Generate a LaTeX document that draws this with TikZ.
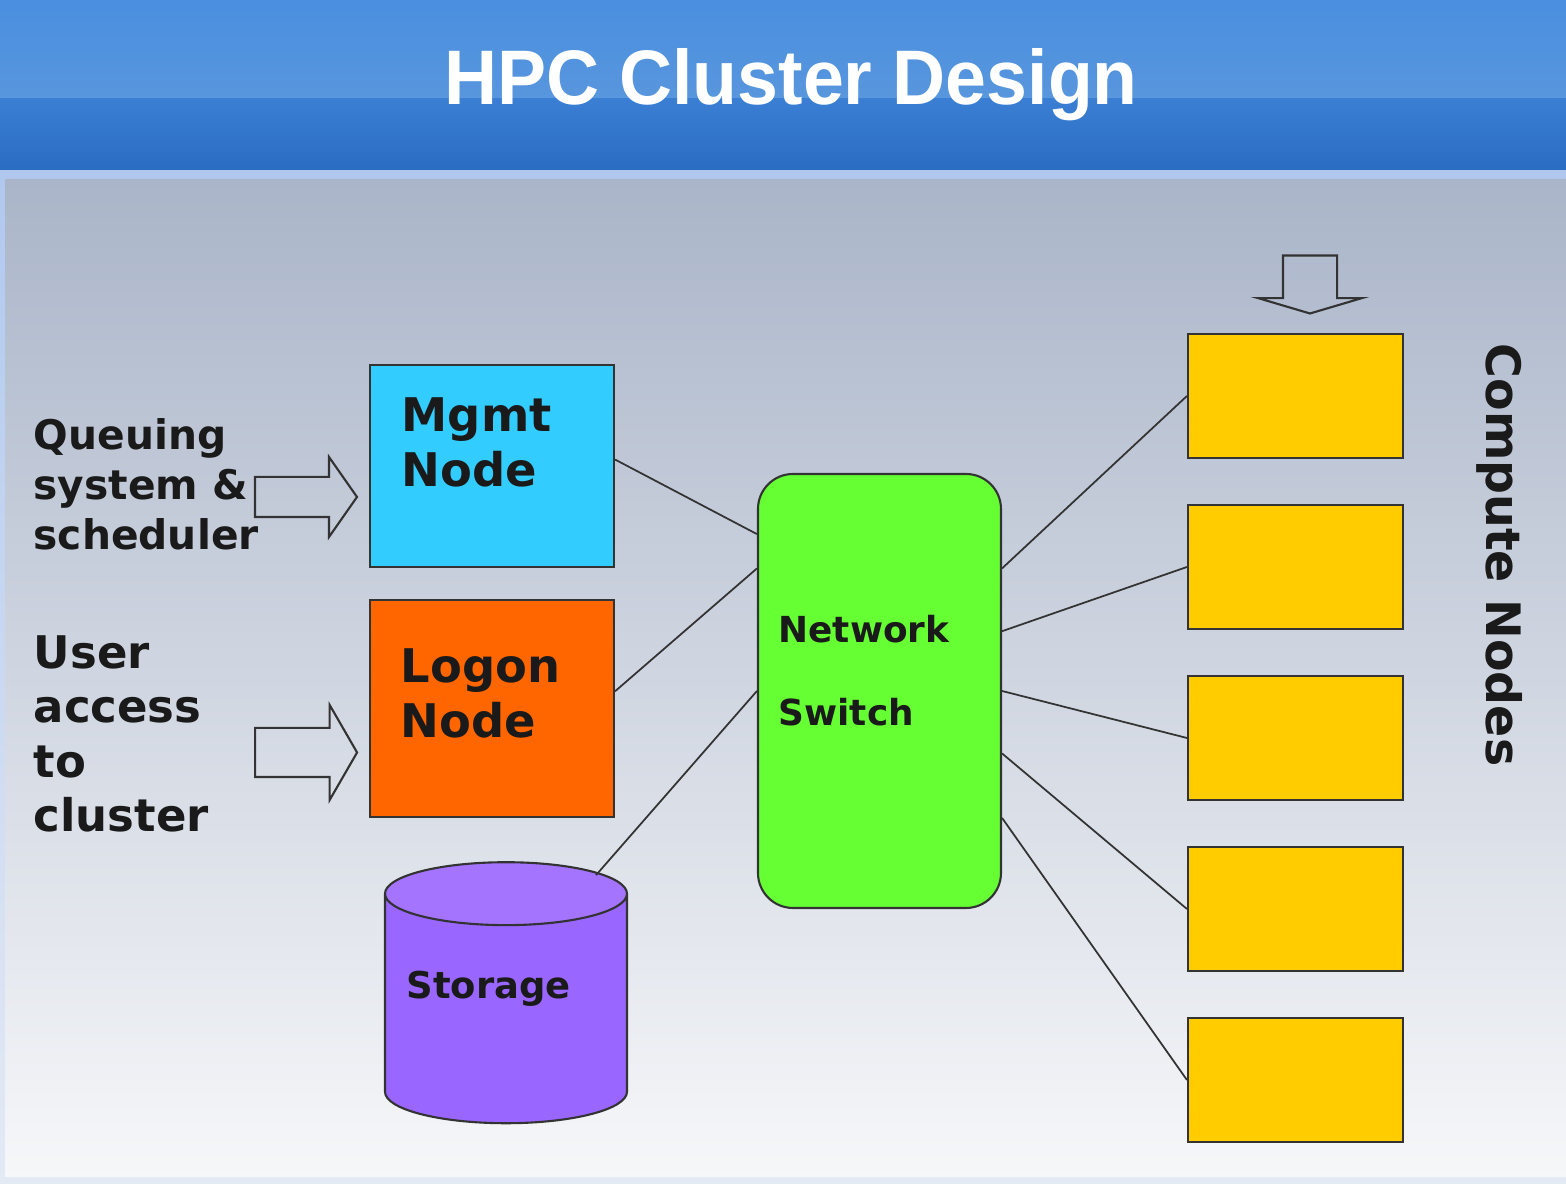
\documentclass[tikz,border=0pt]{standalone}
\usepackage{fontspec}
\setmainfont{DejaVu Sans}
\newfontfamily\titlefont{Liberation Sans}
\usetikzlibrary{positioning, shapes.geometric, shapes.arrows, calc}

\definecolor{barlighttop}{HTML}{4A8FE0}
\definecolor{barlightbottom}{HTML}{5896DD}
\definecolor{bardarktop}{HTML}{3A7FD4}
\definecolor{bardarkbottom}{HTML}{2A6CC2}
\definecolor{framelight}{HTML}{B0C8EE}
\definecolor{framepale}{HTML}{E4EAF4}
\definecolor{bodytop}{HTML}{AAB5C9}
\definecolor{bodybottom}{HTML}{F6F7F9}
\definecolor{edgegray}{HTML}{333333}
\definecolor{inkgray}{HTML}{1A1A1A}
\definecolor{mgmtblue}{HTML}{33CCFF}
\definecolor{logonorange}{HTML}{FF6600}
\definecolor{storagepurple}{HTML}{9966FF}
\definecolor{storagetop}{HTML}{A574FF}
\definecolor{switchgreen}{HTML}{66FF33}
\definecolor{computeyellow}{HTML}{FFCC00}

\begin{document}
\begin{tikzpicture}[
    box/.style={draw=edgegray, line width=0.6pt, minimum width=2.44cm},
    compute/.style={box, fill=computeyellow, minimum width=2.15cm, minimum height=1.24cm},
    txt/.style={inner sep=0pt, align=left, text=inkgray},
    inarrow/.style={single arrow, draw=edgegray, line width=0.6pt, inner xsep=0pt},
    link/.style={draw=edgegray, line width=0.5pt}
  ]
    % background and title bar
    \useasboundingbox (0,0) rectangle (15.66,11.84);
    \fill[top color=framelight, bottom color=framepale] (0,0) rectangle (15.66,10.14);
    \fill[top color=bodytop, bottom color=bodybottom] (0.05,0.07) rectangle (15.66,10.04);
    \fill[top color=bardarktop, bottom color=bardarkbottom] (0,10.14) rectangle (15.66,10.86);
    \fill[top color=barlighttop, bottom color=barlightbottom] (0,10.86) rectangle (15.66,11.84);
    \node[font=\titlefont\bfseries\fontsize{22}{26}\selectfont, text=white, xscale=0.95, anchor=base] (title) at (7.91,10.79) {HPC Cluster Design};

    % machines
    \node[box, fill=mgmtblue, minimum height=2.02cm] (mgmt) at (4.92,7.18) {};
    \node[box, fill=logonorange, minimum height=2.17cm, below=0.31cm of mgmt] (logon) {};
    \node[cylinder, shape border rotate=90, aspect=0.26, draw=edgegray, line width=0.6pt,
      cylinder uses custom fill, cylinder body fill=storagepurple, cylinder end fill=storagetop,
      text width=2.42cm, inner sep=0pt, minimum width=2.42cm, minimum height=2.61cm] (storage) at (5.06,1.75) {};
    \node[box, rounded corners=0.35cm, fill=switchgreen, minimum width=2.43cm, minimum height=4.34cm] (switch) at (8.795,4.93) {};
    \foreach \i in {1,...,5}
      \node[compute] (cn\i) at (12.955,9.59-1.71*\i) {};

    % texts
    \node[txt, font=\bfseries\fontsize{13.2}{15.6}\selectfont, below right=0.33cm and 0.32cm of mgmt.north west] (mgmttxt) {Mgmt\\Node};
    \node[txt, font=\bfseries\fontsize{13.2}{15.6}\selectfont, below right=0.49cm and 0.31cm of logon.north west] (logontxt) {Logon\\Node};
    \node[txt, font=\bfseries\fontsize{10.2}{23.5}\selectfont, below right=1.42cm and 0.21cm of switch.north west] (switchtxt) {Network\\Switch};
    \node[txt, font=\bfseries\fontsize{10.5}{12}\selectfont, right=0.22cm of storage.west, yshift=0.2cm] (storagetxt) {Storage};
    \node[txt, font=\bfseries\fontsize{11.6}{14.2}\selectfont, anchor=north west] (queuetxt) at (0.33,7.66) {Queuing\\system \&\\scheduler};
    \node[txt, font=\bfseries\fontsize{12.8}{15.5}\selectfont, anchor=north west] (usertxt) at (0.33,5.49) {User\\access\\to\\cluster};
    \node[txt, font=\bfseries\fontsize{13.5}{16}\selectfont, rotate=-90] (computetxt) at (15.0,6.29) {Compute Nodes};

    % block arrows
    \node[inarrow, inner ysep=0.19cm, minimum height=1.02cm, single arrow head extend=0.2cm, single arrow tip angle=110] (qarrow) at (2.99,6.87) {};
    \node[inarrow, inner ysep=0.235cm, minimum height=1.02cm, single arrow head extend=0.23cm, single arrow tip angle=120] (uarrow) at (2.99,4.315) {};
    \node[inarrow, rotate=-90, inner ysep=0.26cm, minimum height=0.58cm, single arrow head extend=0.25cm, single arrow tip angle=147] (darrow) at (13.10,9.035) {};

    % links
    \draw[link] (mgmt.3) -- (switch.128);
    \draw[link] (logon.8) -- (switch.135);
    \draw[link] ($(storage.north)+(0.9,-0.14)$) -- (switch.west);
    \foreach \i/\a in {1/45, 2/26, 3/0, 4/-27, 5/-46}
      \draw[link] (switch.\a) -- (cn\i.west);
\end{tikzpicture}
\end{document}
